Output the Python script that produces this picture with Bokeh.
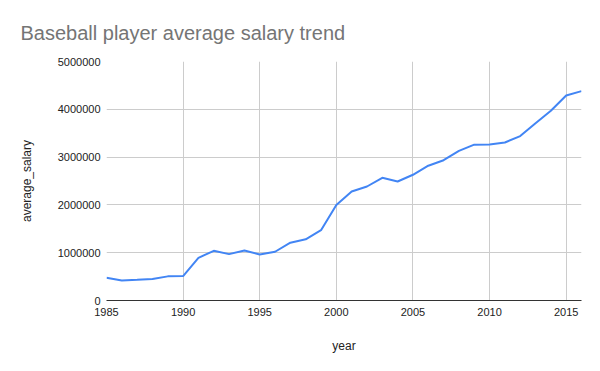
from bokeh.plotting import figure
from bokeh.models import Range1d, FixedTicker, BasicTickFormatter, Title
from bokeh.embed import file_html
from bokeh.resources import INLINE

years = list(range(1985, 2017))
average_salary = [476000, 418000, 433000, 450000, 505000, 511000, 893000, 1040000,
                  970000, 1046000, 962000, 1020000, 1210000, 1280000, 1470000, 2000000,
                  2280000, 2385000, 2567000, 2490000, 2630000, 2820000, 2935000, 3130000,
                  3260000, 3265000, 3305000, 3440000, 3710000, 3970000, 4290000, 4380000]
x_ticks = [1985, 1990, 1995, 2000, 2005, 2010, 2015]
y_ticks = [0, 1000000, 2000000, 3000000, 4000000, 5000000]

FONT = "Liberation Sans"

p = figure(width=592, height=363, output_backend="svg", toolbar_location=None,
           x_range=Range1d(1985, 2016), y_range=Range1d(0, 5000000),
           min_border_left=106, min_border_right=11, min_border_top=61, min_border_bottom=63)
p.outline_line_color = None
p.background_fill_color = "white"
p.border_fill_color = "white"

t = Title(text="Baseball player average salary trend", text_font=FONT, text_font_size="20px",
          text_font_style="normal", text_color="#757575", offset=-86, standoff=36,
          text_line_height=0.9)
p.add_layout(t, "above")

p.line(years, average_salary, line_color="#4285F4", line_width=2)

p.xaxis.ticker = FixedTicker(ticks=x_ticks)
p.yaxis.ticker = FixedTicker(ticks=y_ticks)
p.yaxis.formatter = BasicTickFormatter(use_scientific=False)
p.xaxis.axis_label = "year"
p.yaxis.axis_label = "average_salary"
for ax in (p.xaxis, p.yaxis):
    ax.major_tick_in = 0
    ax.major_tick_out = 0
    ax.minor_tick_in = 0
    ax.minor_tick_out = 0
    ax.major_label_text_font = FONT
    ax.major_label_text_font_size = "11px"
    ax.major_label_text_color = "#222222"
    ax.axis_label_text_font = FONT
    ax.axis_label_text_font_size = "12px"
    ax.axis_label_text_font_style = "normal"
    ax.axis_label_text_color = "#222222"
p.yaxis.axis_line_color = None
p.xaxis.axis_line_color = "#333333"
p.xaxis.major_label_standoff = 7
p.xaxis.axis_label_standoff = 20
p.yaxis.major_label_standoff = 6
p.yaxis.axis_label_standoff = 21
p.grid.grid_line_color = "#cccccc"
p.grid.grid_line_width = 1

open("out.html", "w").write(file_html(p, INLINE))
